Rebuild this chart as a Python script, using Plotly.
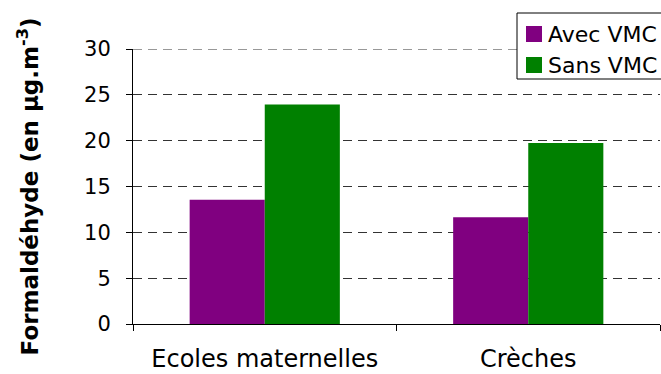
import plotly.graph_objects as go

categories = ["Ecoles maternelles", "Crèches"]
avec_vmc = [13.55, 11.65]
sans_vmc = [23.95, 19.75]
series_names = ["Avec VMC", "Sans VMC"]
series_colors = ["#800080", "#008000"]
y_ticks = [0, 5, 10, 15, 20, 25, 30]

FONT = "DejaVu Sans"

# plot-area geometry in pixels (for layout helpers)
W, H = 661, 374
L, R, T, B = 133, 1, 49, 50
PW, PH = W - L - R, H - T - B


def px_x(px):
    return (px - L) / PW


def px_y(py):
    return (H - B - py) / PH


fig = go.Figure()
for name, vals, col in zip(series_names, [avec_vmc, sans_vmc], series_colors):
    fig.add_trace(go.Bar(x=categories, y=vals, name=name,
                         marker=dict(color=col, line=dict(width=0))))

shapes = []
annotations = []
# top gridline (at the range end, which plotly hides)
shapes.append(dict(type="line", xref="paper", yref="y", x0=0, x1=1,
                   y0=max(y_ticks), y1=max(y_ticks),
                   line=dict(color="#333333", width=1, dash="9px,6px")))
# legend box
shapes.append(dict(type="rect", xref="paper", yref="paper",
                   x0=px_x(517), x1=px_x(680), y0=px_y(79), y1=px_y(13),
                   line=dict(color="black", width=1), fillcolor="white"))
row_centers = [34, 65]
for name, col, yc in zip(series_names, series_colors, row_centers):
    shapes.append(dict(type="rect", xref="paper", yref="paper",
                       x0=px_x(526), x1=px_x(542), y0=px_y(yc + 8), y1=px_y(yc - 8),
                       line=dict(width=0), fillcolor=col))
    annotations.append(dict(text=name, xref="paper", yref="paper",
                            x=px_x(546), y=px_y(yc), xanchor="left", yanchor="middle",
                            showarrow=False,
                            font=dict(family=FONT, size=22, color="black")))

fig.update_layout(
    width=W, height=H,
    margin=dict(l=L, r=R, t=T, b=B, pad=0, autoexpand=False),
    paper_bgcolor="white", plot_bgcolor="white",
    barmode="group", bargap=0.43, bargroupgap=0,
    font=dict(family=FONT, size=21, color="black"),
    showlegend=False,
    shapes=shapes,
    annotations=annotations,
)
fig.update_xaxes(
    showline=True, linecolor="black", linewidth=1,
    ticks="outside", tickson="boundaries", ticklen=6, tickcolor="black",
    showgrid=False, tickfont=dict(family=FONT, size=24),
    ticklabelstandoff=13,
)
fig.update_yaxes(
    range=[0, 30], tickvals=y_ticks,
    showline=True, linecolor="black", linewidth=1,
    ticks="outside", ticklen=6, tickcolor="black",
    showgrid=True, gridcolor="#333333", griddash="9px,6px", gridwidth=1,
    zeroline=False, tickfont=dict(family=FONT, size=21),
    ticklabelstandoff=11,
    title=dict(text="<b>Formaldéhyde (en µg.m<sup>-3</sup>)</b>",
               font=dict(family=FONT, size=23), standoff=39),
)

fig.write_html("out.html")
